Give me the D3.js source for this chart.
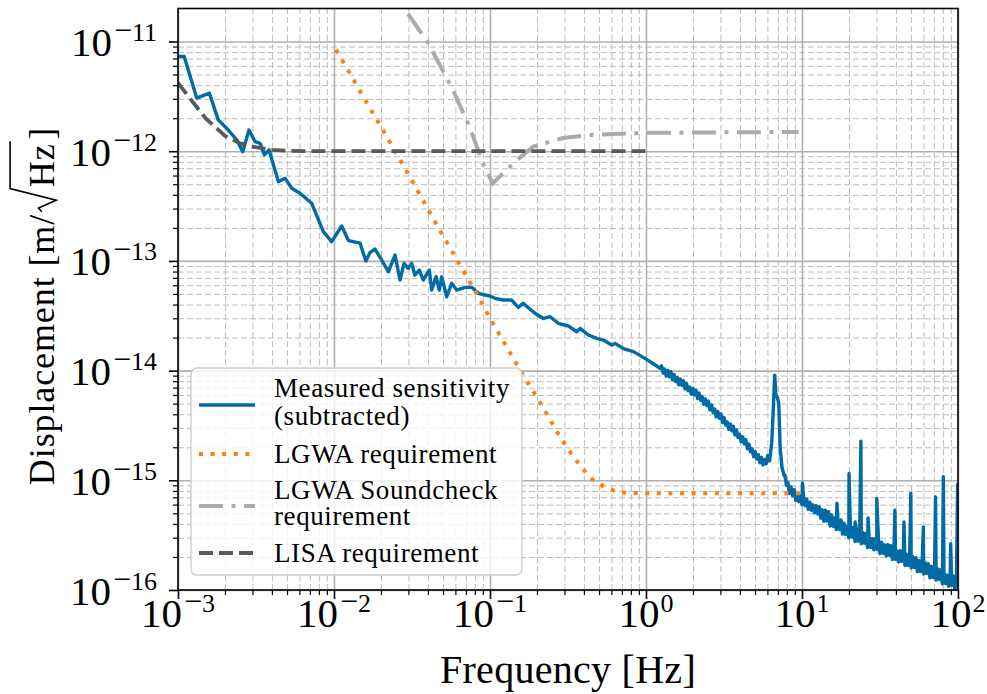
<!DOCTYPE html>
<html><head><meta charset="utf-8">
<script src="https://cdn.jsdelivr.net/npm/d3@7"></script>
<style>
body{margin:0;background:#fff}
svg{display:block}
</style>
</head><body>
<svg id="c" width="987" height="694"></svg>
<script>
// ---------------- DATA ----------------
const xTickExps = [-3, -2, -1, 0, 1, 2];
const yTickExps = [-16, -15, -14, -13, -12, -11];

const legendLines = ["Measured sensitivity", "(subtracted)", "LGWA requirement", "LGWA Soundcheck", "requirement", "LISA requirement"];

// Measured sensitivity (subtracted), low-frequency part [Hz, m/sqrt(Hz)]
const measuredLow = [
 [1.0e-3,7.30e-12],[1.096e-3,7.30e-12],[1.318e-3,3.05e-12],[1.59e-3,3.38e-12],[1.81e-3,1.93e-12],
 [2.05e-3,1.62e-12],[2.38e-3,1.27e-12],[2.60e-3,9.9e-13],[2.85e-3,1.56e-12],[3.12e-3,1.22e-12],
 [3.36e-3,1.18e-12],[3.58e-3,9.25e-13],[3.83e-3,1.03e-12],[4.40e-3,5.28e-13],[4.85e-3,5.68e-13],
 [5.36e-3,4.60e-13],[6.05e-3,4.14e-13],[7.19e-3,3.36e-13],[8.54e-3,1.85e-13],[9.66e-3,1.50e-13],
 [1.12e-2,2.08e-13],[1.24e-2,1.53e-13],[1.47e-2,1.45e-13],[1.60e-2,9.98e-14],[1.70e-2,1.19e-13],
 [1.83e-2,1.28e-13],[2.02e-2,1.02e-13],[2.23e-2,7.96e-14],[2.46e-2,1.13e-13],[2.65e-2,6.70e-14],
 [2.81e-2,9.50e-14],[2.99e-2,8.55e-14],[3.15e-2,9.50e-14],[3.30e-2,7.43e-14],[3.52e-2,8.26e-14],
 [3.73e-2,6.70e-14],[4.08e-2,8.26e-14],[4.23e-2,5.42e-14],[4.51e-2,7.18e-14],[4.73e-2,5.42e-14],
 [4.90e-2,7.18e-14],[5.28e-2,4.71e-14],[5.68e-2,6.25e-14],[6.12e-2,5.42e-14],[6.92e-2,5.74e-14],
 [7.64e-2,5.74e-14],[8.41e-2,5.06e-14],[9.29e-2,4.89e-14],[0.100,4.79e-14],[0.1076,4.56e-14],
 [0.1216,4.40e-14],[0.1377,4.40e-14],[0.1518,3.77e-14],[0.1633,4.10e-14],[0.194,3.33e-14],
 [0.220,2.99e-14],[0.243,3.10e-14],[0.274,2.70e-14],[0.318,2.55e-14],[0.360,2.26e-14],
 [0.378,2.43e-14],[0.427,2.11e-14],[0.483,1.97e-14],[0.532,1.90e-14],[0.603,1.71e-14],
 [0.633,1.77e-14],[0.716,1.59e-14],[0.830,1.49e-14],[0.962,1.32e-14],[1.089,1.18e-14],
 [1.23,1.05e-14]
];

// Measured sensitivity, noisy high-frequency band, given as [log10(Hz), log10(m/sqrt(Hz))]
const measuredBandLog = [
 [0.10,-13.957],[0.11,-14.022],[0.12,-13.986],[0.13,-14.051],[0.14,-13.998],[0.15,-14.056],
 [0.16,-14.010],[0.17,-14.085],[0.18,-14.035],[0.19,-14.100],[0.20,-14.064],[0.21,-14.129],
 [0.22,-14.076],[0.23,-14.135],[0.24,-14.091],[0.25,-14.167],[0.26,-14.118],[0.27,-14.183],
 [0.28,-14.149],[0.29,-14.215],[0.30,-14.163],[0.31,-14.222],[0.32,-14.178],[0.33,-14.254],
 [0.34,-14.204],[0.35,-14.270],[0.36,-14.237],[0.37,-14.306],[0.38,-14.258],[0.39,-14.320],
 [0.40,-14.279],[0.41,-14.358],[0.42,-14.313],[0.43,-14.382],[0.44,-14.351],[0.45,-14.421],
 [0.46,-14.372],[0.47,-14.434],[0.48,-14.394],[0.49,-14.473],[0.50,-14.427],[0.51,-14.496],
 [0.52,-14.466],[0.53,-14.535],[0.54,-14.486],[0.55,-14.549],[0.56,-14.508],[0.57,-14.587],
 [0.58,-14.541],[0.59,-14.611],[0.60,-14.580],[0.61,-14.649],[0.62,-14.603],[0.63,-14.668],
 [0.64,-14.630],[0.65,-14.712],[0.66,-14.669],[0.67,-14.741],[0.68,-14.713],[0.69,-14.785],
 [0.70,-14.739],[0.71,-14.804],[0.72,-14.766],[0.73,-14.841],[0.74,-14.792],[0.75,-14.860],
 [0.76,-14.810],[0.77,-14.850],[0.78,-14.775],
 // resonance near 6.7 Hz
 [0.792,-14.824],[0.806,-14.658],[0.816,-14.347],[0.825,-14.041],[0.8325,-14.222],[0.842,-14.244],
 [0.851,-14.301],[0.860,-14.699],[0.872,-14.886],[0.886,-14.959],
 // 8 - 100 Hz with spectral lines
 [0.89,-14.950],[0.90,-15.045],[0.91,-15.020],[0.92,-15.120],[0.93,-15.060],[0.94,-15.140],
 [0.95,-15.085],[0.96,-15.185],[0.97,-15.120],[0.98,-15.195],[0.99,-15.146],[1.00,-15.222],
 [1.003,-15.024],
 [1.01,-15.156],[1.02,-15.231],[1.03,-15.170],[1.04,-15.265],[1.05,-15.199],[1.06,-15.273],
 [1.07,-15.223],[1.08,-15.297],[1.09,-15.232],[1.10,-15.306],[1.11,-15.240],[1.12,-15.345],
 [1.13,-15.269],[1.14,-15.374],[1.15,-15.273],[1.16,-15.372],[1.17,-15.287],[1.18,-15.416],
 [1.19,-15.316],[1.20,-15.420],[1.21,-15.344],[1.22,-15.449],[1.224,-15.209],[1.23,-15.348],
 [1.24,-15.448],[1.25,-15.362],[1.26,-15.491],[1.27,-15.391],[1.28,-15.495],[1.29,-15.420],
 [1.30,-15.524],[1.3015,-14.938],[1.31,-15.421],[1.32,-15.518],[1.33,-15.430],[1.34,-15.557],
 [1.3405,-15.380],[1.35,-15.454],[1.36,-15.555],[1.37,-15.477],[1.3775,-14.643],[1.38,-15.579],
 [1.39,-15.476],[1.40,-15.573],[1.41,-15.485],[1.42,-15.612],[1.4235,-15.343],[1.43,-15.509],
 [1.44,-15.611],[1.45,-15.533],[1.46,-15.634],[1.47,-15.531],[1.48,-15.628],[1.4795,-15.166],
 [1.49,-15.540],[1.50,-15.667],[1.51,-15.564],[1.52,-15.666],[1.53,-15.588],[1.54,-15.690],
 [1.55,-15.587],[1.56,-15.683],[1.57,-15.595],[1.58,-15.722],[1.59,-15.619],[1.5955,-15.273],
 [1.60,-15.721],[1.61,-15.643],[1.62,-15.745],[1.63,-15.642],[1.64,-15.739],[1.65,-15.651],
 [1.6535,-15.380],[1.66,-15.777],[1.67,-15.674],[1.68,-15.776],[1.69,-15.698],[1.6975,-15.120],
 [1.70,-15.800],[1.71,-15.697],[1.72,-15.794],[1.73,-15.706],[1.74,-15.833],[1.75,-15.730],
 [1.76,-15.831],[1.77,-15.753],[1.778,-15.425],[1.78,-15.855],[1.79,-15.752],[1.80,-15.849],
 [1.81,-15.761],[1.82,-15.888],[1.83,-15.785],[1.84,-15.887],[1.85,-15.809],[1.856,-15.151],
 [1.86,-15.910],[1.87,-15.807],[1.88,-15.904],[1.89,-15.816],[1.90,-15.943],[1.906,-14.967],
 [1.91,-15.840],[1.92,-15.942],[1.93,-15.864],[1.94,-15.966],[1.95,-15.863],[1.953,-15.577],
 [1.96,-15.959],[1.97,-15.871],[1.98,-15.998],[1.99,-15.895],[1.998,-15.036],[2.00,-15.977]
];

// LGWA requirement [Hz, m/sqrt(Hz)]
const lgwa = [
 [0.0103,8.4e-12],[0.01268,5.1e-12],[0.0158,2.94e-12],[0.0188,1.95e-12],[0.0246,1.0e-12],
 [0.0285,7.0e-13],[0.0365,3.75e-13],[0.0467,2.0e-13],[0.0605,1.06e-13],[0.072,6.93e-14],
 [0.0853,4.56e-14],[0.1,2.99e-14],[0.119,1.97e-14],[0.141,1.29e-14],[0.1675,8.5e-15],
 [0.199,5.77e-15],[0.2365,3.79e-15],[0.281,2.49e-15],[0.342,1.64e-15],[0.417,1.15e-15],
 [0.471,9.66e-16],[0.546,8.7e-16],[0.633,8.0e-16],[0.752,7.67e-16],[1.0,7.62e-16],[10.0,7.62e-16]
];

// LGWA Soundcheck requirement
const soundcheck = [
 [0.0298,1.79e-11],[0.040,9.8e-12],[0.058,3.6e-12],[0.074,1.66e-12],[0.090,7.8e-13],
 [0.104,5.1e-13],[0.149,8.3e-13],[0.189,1.1e-12],[0.294,1.32e-12],[0.457,1.41e-12],
 [1.0,1.47e-12],[9.5,1.5e-12]
];

// LISA requirement
const lisa = [
 [1e-3,4.2e-12],[1.2e-3,3.0e-12],[1.5e-3,2.0e-12],[2e-3,1.38e-12],[2.5e-3,1.18e-12],
 [3e-3,1.1e-12],[4e-3,1.03e-12],[5e-3,1.01e-12],[7e-3,1.0e-12],[1e-2,1.0e-12],[1e-1,1.0e-12],[1,1.0e-12]
];

// ---------------- CHART ----------------
const FONT = "'Liberation Serif','DejaVu Serif','Noto Serif',serif";
const svg = d3.select("#c").attr("font-family", FONT);
const L = 178, R = 958, T = 8.5, B = 590;
const x = d3.scaleLog().domain([1e-3, 1e2]).range([L, R]);
const y = d3.scaleLog().domain([1e-16, 2e-11]).range([B, T]);

const measured = measuredLow.concat(measuredBandLog.map(d => [Math.pow(10, d[0]), Math.pow(10, d[1])]));

const xMajor = xTickExps.map(e => Math.pow(10, e));
const yMajor = yTickExps.map(e => Math.pow(10, e));
const xMinor = [], yMinor = [];
for (let e = -3; e < 2; e++) for (let k = 2; k <= 9; k++) xMinor.push(k * Math.pow(10, e));
for (let e = -16; e <= -11; e++) for (let k = 2; k <= 9; k++) { const v = k * Math.pow(10, e); if (v < 1.99e-11) yMinor.push(v); }

const C = { blue: "#006BA4", orange: "#FF800E", gray: "#ABABAB", dark: "#595959", grid: "#b0b0b0" };

function styleGrid(g, major) {
  g.select(".domain").remove();
  g.selectAll(".tick line").attr("stroke", major ? C.grid : "#bdbdbd")
    .attr("stroke-width", major ? 1.6 : 1).attr("stroke-dasharray", major ? null : "6,3");
}
svg.append("g").attr("transform", `translate(0,${B})`)
  .call(d3.axisBottom(x).tickValues(xMinor).tickSize(-(B - T)).tickFormat(""))
  .call(g => styleGrid(g, false));
svg.append("g").attr("transform", `translate(${L},0)`)
  .call(d3.axisLeft(y).tickValues(yMinor).tickSize(-(R - L)).tickFormat(""))
  .call(g => styleGrid(g, false));
svg.append("g").attr("transform", `translate(0,${B})`)
  .call(d3.axisBottom(x).tickValues(xMajor).tickSize(-(B - T)).tickFormat(""))
  .call(g => styleGrid(g, true));
svg.append("g").attr("transform", `translate(${L},0)`)
  .call(d3.axisLeft(y).tickValues(yMajor).tickSize(-(R - L)).tickFormat(""))
  .call(g => styleGrid(g, true));

svg.append("clipPath").attr("id", "clip").append("rect")
  .attr("x", L).attr("y", T).attr("width", R - L).attr("height", B - T);
const line = d3.line().x(d => x(d[0])).y(d => y(d[1]));
const plot = svg.append("g").attr("clip-path", "url(#clip)");
plot.append("path").datum(measured).attr("d", line).attr("fill", "none")
  .attr("stroke", C.blue).attr("stroke-width", 3.4).attr("stroke-linejoin", "round");
plot.append("path").datum(lgwa).attr("d", line).attr("fill", "none")
  .attr("stroke", C.orange).attr("stroke-width", 4).attr("stroke-dasharray", "4,7.6");
plot.append("path").datum(soundcheck).attr("d", line).attr("fill", "none")
  .attr("stroke", C.gray).attr("stroke-width", 4).attr("stroke-dasharray", "24,8.5,4,8.5");
plot.append("path").datum(lisa).attr("d", line).attr("fill", "none")
  .attr("stroke", C.dark).attr("stroke-width", 3.8).attr("stroke-dasharray", "14,6");

svg.append("rect").attr("x", L).attr("y", T).attr("width", R - L).attr("height", B - T)
  .attr("fill", "none").attr("stroke", "#000").attr("stroke-width", 1.6);

function styleTicks(g, w) { g.select(".domain").remove(); g.selectAll(".tick line").attr("stroke", "#000").attr("stroke-width", w); }
svg.append("g").attr("transform", `translate(0,${B})`)
  .call(d3.axisBottom(x).tickValues(xMinor).tickSize(5).tickFormat("")).call(g => styleTicks(g, 1.2));
svg.append("g").attr("transform", `translate(0,${B})`)
  .call(d3.axisBottom(x).tickValues(xMajor).tickSize(9).tickFormat("")).call(g => styleTicks(g, 1.6));
svg.append("g").attr("transform", `translate(${L},0)`)
  .call(d3.axisLeft(y).tickValues(yMinor).tickSize(5).tickFormat("")).call(g => styleTicks(g, 1.2));
svg.append("g").attr("transform", `translate(${L},0)`)
  .call(d3.axisLeft(y).tickValues(yMajor).tickSize(9).tickFormat("")).call(g => styleTicks(g, 1.6));

// tick labels
function powLabel(sel, exp) {
  sel.append("tspan").attr("font-size", 41).text("10");
  if (exp < 0) {
    sel.append("tspan").attr("font-size", 32).attr("dy", -15).attr("dx", 2).text("\u2212");
    sel.append("tspan").attr("font-size", 26).text(String(-exp));
  } else {
    sel.append("tspan").attr("font-size", 26).attr("dy", -15).attr("dx", 1).text(String(exp));
  }
}
xTickExps.forEach(e => {
  const t = svg.append("text").attr("x", x(Math.pow(10, e))).attr("y", 627).attr("text-anchor", "middle");
  powLabel(t, e);
});
yTickExps.forEach(e => {
  const t = svg.append("text").attr("x", 157).attr("y", y(Math.pow(10, e)) + 14.5).attr("text-anchor", "end");
  powLabel(t, e);
});

// stretch a text towards a target width with a little letter spacing (capped)
function spread(sel, target, cap) {
  const w = sel.node().getComputedTextLength();
  const n = sel.text().length;
  const ls = Math.min(cap, Math.max(0, (target - w) / n));
  sel.attr("letter-spacing", ls);
  return ls;
}

// x label
const xl = svg.append("text").attr("x", (L + R) / 2).attr("y", 683).attr("text-anchor", "middle")
  .attr("font-size", 40).text("Frequency [Hz]");
spread(xl, 256, 1.2);

// y label with radical
{
  const g = svg.append("g");
  const fs = 36;
  const t1 = g.append("text").attr("x", 0).attr("y", 0).attr("font-size", fs).text("Displacement [m/");
  const hz = g.append("text").attr("y", 0).attr("font-size", fs).text("Hz");
  const br = g.append("text").attr("y", 0).attr("font-size", fs).text("]");
  const rad = g.append("path").attr("fill", "none").attr("stroke", "#000").attr("stroke-width", 1.6);
  function layout() {
    const w1 = t1.node().getComputedTextLength();
    const r0 = w1 + 0.06 * fs;
    hz.attr("x", r0 + 0.68 * fs);
    const hzEnd = r0 + 0.68 * fs + hz.node().getComputedTextLength();
    rad.attr("d", `M${r0},${-0.34*fs}L${r0+0.1*fs},${-0.43*fs}L${r0+0.32*fs},${0.06*fs}L${r0+0.64*fs},${-1.22*fs}L${hzEnd+0.06*fs},${-1.22*fs}`);
    br.attr("x", hzEnd + 0.10 * fs);
    return hzEnd + 0.10 * fs + br.node().getComputedTextLength();
  }
  let total = layout();
  const ls = Math.min(0.9, Math.max(0, (407 - total) / 18));
  t1.attr("letter-spacing", ls); hz.attr("letter-spacing", ls);
  total = layout();
  g.attr("transform", `translate(54,306.5) rotate(-90) translate(${-total / 2},0)`);
}

// legend
const lg = svg.append("g");
lg.append("rect").attr("x", 191).attr("y", 368).attr("width", 331).attr("height", 207).attr("rx", 6)
  .attr("fill", "#fff").attr("fill-opacity", 0.8).attr("stroke", "#cccccc").attr("stroke-width", 1.3);
const handles = [
  { y: 405, c: C.blue, w: 3.4, d: null },
  { y: 454, c: C.orange, w: 4, d: "4,7.6" },
  { y: 506, c: C.gray, w: 4, d: "24,8.5,4,8.5" },
  { y: 553, c: C.dark, w: 3.8, d: "14,6" }
];
handles.forEach(h => lg.append("line").attr("x1", 199).attr("x2", 255).attr("y1", h.y).attr("y2", h.y)
  .attr("stroke", h.c).attr("stroke-width", h.w).attr("stroke-dasharray", h.d));
const labelY = [397, 425, 462.5, 498.5, 524.5, 561.5];
const texts = legendLines.map((s, i) => lg.append("text").attr("x", 274).attr("y", labelY[i]).attr("font-size", 27).text(s));
{ const ls = spread(texts[0], 236, 0.6); texts.forEach(t => t.attr("letter-spacing", ls)); }
</script>
</body></html>
